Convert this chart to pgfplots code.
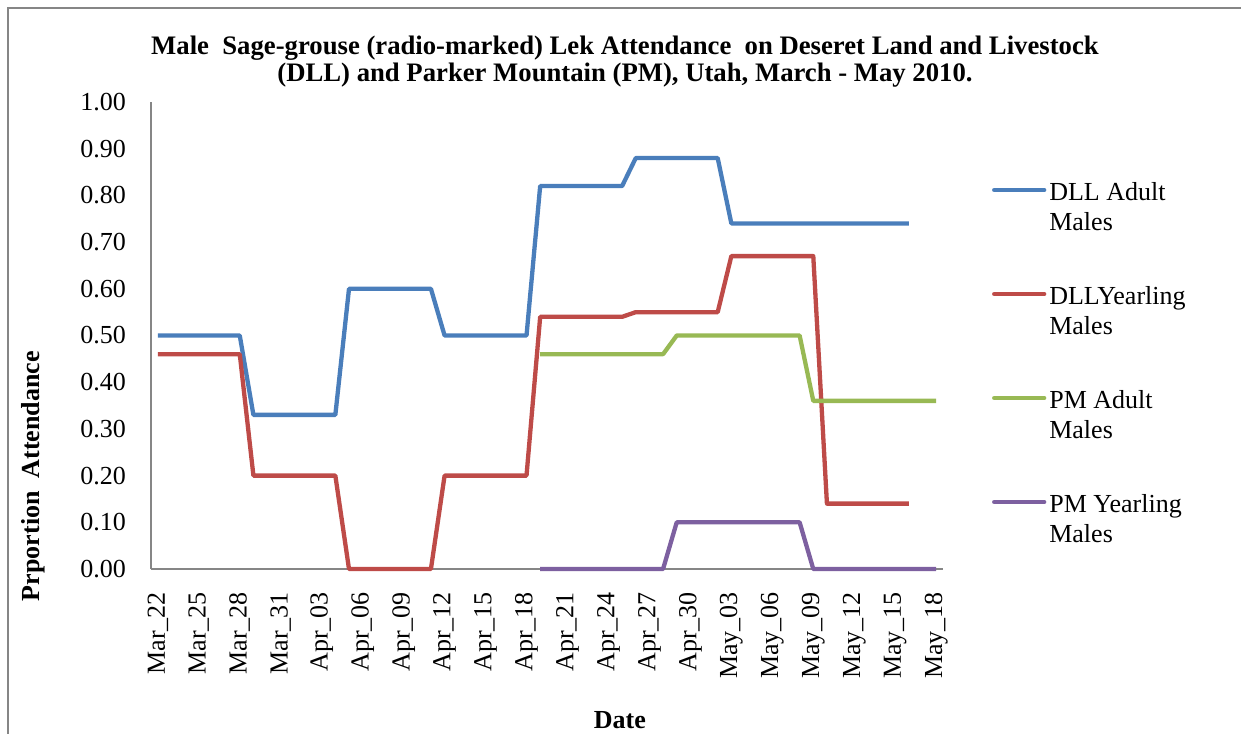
\documentclass[border=0pt]{standalone}
\usepackage{fontspec}
\setmainfont{Liberation Serif}
\usepackage{pgfplots}
\pgfplotsset{compat=1.18}
\definecolor{cblue}{RGB}{74,126,187}
\definecolor{cred}{RGB}{190,75,72}
\definecolor{cgreen}{RGB}{152,185,84}
\definecolor{cpurple}{RGB}{125,96,160}
\definecolor{axgray}{RGB}{134,134,134}
\newcommand{\tl}[2]{\smash{\rlap{\raisebox{-30bp}{#2}}}#1}
\begin{document}
\begin{tikzpicture}
\useasboundingbox (0,0) rectangle (1241bp,-734bp);
\draw[axgray, line width=1.5bp] (8bp,-745bp) -- (8bp,-8bp) -- (1250bp,-8bp);
\begin{axis}[
  at={(151bp,-569bp)}, anchor=south west,
  scale only axis, width=792bp, height=467bp,
  xmin=-0.5, xmax=57.5, ymin=0, ymax=1,
  clip=false,
  axis x line*=bottom, axis y line*=left,
  axis line style={axgray, line width=1.5bp, -},
  major tick length=0pt,
  xtick={0,3,6,9,12,15,18,21,24,27,30,33,36,39,42,45,48,51,54,57},
  xticklabels={Mar\_22,Mar\_25,Mar\_28,Mar\_31,Apr\_03,Apr\_06,Apr\_09,Apr\_12,Apr\_15,Apr\_18,Apr\_21,Apr\_24,Apr\_27,Apr\_30,May\_03,May\_06,May\_09,May\_12,May\_15,May\_18},
  ytick={0,0.1,0.2,0.3,0.4,0.5,0.6,0.7,0.8,0.9,1},
  /pgf/number format/assume math mode=true,
  /pgf/number format/fixed,
  /pgf/number format/fixed zerofill,
  /pgf/number format/precision=2,
  tick label style={font=\fontsize{26bp}{30bp}\selectfont, inner sep=0pt},
  xticklabel style={rotate=90, anchor=east},
  yticklabel style={anchor=east},
  xticklabel shift=23bp,
  yticklabel shift=25bp,
  title={Male~~Sage-grouse (radio-marked) Lek Attendance~~on Deseret Land and Livestock\\(DLL) and Parker Mountain (PM), Utah, March - May 2010.},
  title style={font=\bfseries\fontsize{26.7bp}{27.5bp}\selectfont, align=center, at={(axis description cs:0.5985,1.0739)}, anchor=center},
  ylabel={Prportion~~Attendance},
  ylabel style={font=\bfseries\fontsize{26bp}{30bp}\selectfont, at={(axis description cs:-0.149,0.199)}, anchor=center},
  xlabel={Date},
  xlabel style={font=\bfseries\fontsize{26bp}{30bp}\selectfont, at={(axis description cs:0.592,-0.323)}, anchor=center},
  legend style={at={(axis description cs:1.0619,0.833)}, anchor=north west, draw=none, fill=none, inner sep=0pt, outer sep=0pt, row sep=84bp, font=\fontsize{26bp}{30bp}\selectfont, nodes={inner sep=0pt, text height=20bp, text depth=0pt}, /tikz/every odd column/.style={column sep=3bp}},
  legend cell align=left,
  legend image code/.code={\draw[#1, line cap=round] (-1bp,0bp) -- (49bp,0bp);},
  every axis plot/.append style={line width=4.3bp, line join=round, mark=none},
]
\addplot[cblue] coordinates {(0,0.50)(6,0.50)(7,0.33)(13,0.33)(14,0.60)(20,0.60)(21,0.50)(27,0.50)(28,0.82)(34,0.82)(35,0.88)(41,0.88)(42,0.74)(55,0.74)};
\addlegendentry{\tl{DLL Adult}{Males}}
\addplot[cred] coordinates {(0,0.46)(6,0.46)(7,0.20)(13,0.20)(14,0.00)(20,0.00)(21,0.20)(27,0.20)(28,0.54)(34,0.54)(35,0.55)(41,0.55)(42,0.67)(48,0.67)(49,0.14)(55,0.14)};
\addlegendentry{\tl{DLLYearling}{Males}}
\addplot[cgreen] coordinates {(28,0.46)(37,0.46)(38,0.50)(47,0.50)(48,0.36)(57,0.36)};
\addlegendentry{\tl{PM Adult}{Males}}
\addplot[cpurple] coordinates {(28,0.00)(37,0.00)(38,0.10)(47,0.10)(48,0.00)(57,0.00)};
\addlegendentry{\tl{PM Yearling}{Males}}
\end{axis}
\end{tikzpicture}
\end{document}
